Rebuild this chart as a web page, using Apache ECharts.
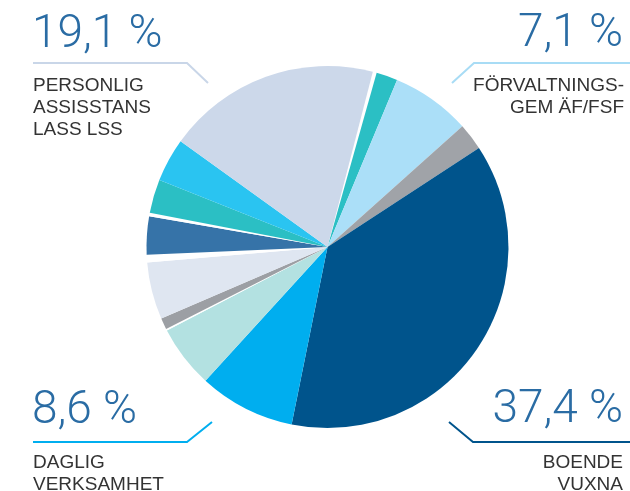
<!DOCTYPE html>
<html>
<head>
<meta charset="utf-8">
<script src="https://cdn.jsdelivr.net/npm/echarts@6/dist/echarts.min.js"></script>
<style>
  html, body { margin: 0; padding: 0; background: #ffffff; }
  #chart { width: 630px; height: 491px; }
</style>
</head>
<body>
<div id="chart"></div>
<script>
// Slices in clockwise order, starting just right of 12 o'clock
const categories = [
  'gap1', 'Övrigt 1', 'Förvaltningsgem ÄF/FSF', 'Övrigt 2', 'Boende vuxna',
  'Daglig verksamhet', 'Övrigt 3', 'gap2', 'Övrigt 4', 'Övrigt 5', 'gap3',
  'Övrigt 6', 'gap4', 'Övrigt 7', 'Övrigt 8', 'Personlig assistans LASS LSS'
];
const values = [0.35, 1.9, 7.1, 2.4, 37.4, 8.6, 5.6, 0.15, 1.0, 5.1, 0.7, 3.4, 0.3, 3.0, 3.9, 19.1];
const colors = [
  '#ffffff', '#2bbfc4', '#abdff8', '#a0a3a8', '#00548c',
  '#00aeef', '#b3e1e1', '#ffffff', '#9c9fa4', '#dfe6f1', '#ffffff',
  '#3673a8', '#ffffff', '#2bbfc4', '#2ac4f1', '#ccd8ea'
];
const percentLabels = ['19,1 %', '7,1 %', '8,6 %', '37,4 %'];
const nameLabels = [
  'PERSONLIG\nASSISSTANS\nLASS LSS',
  'FÖRVALTNINGS-\nGEM ÄF/FSF',
  'DAGLIG\nVERKSAMHET',
  'BOENDE\nVUXNA'
];
const leaderColors = ['#c9d6e8', '#a8dcf5', '#00aeef', '#00548c'];

const chart = echarts.init(document.getElementById('chart'), null, { renderer: 'canvas' });

const numFont = { fontFamily: 'Roboto, "Liberation Sans", sans-serif', fontWeight: 300, fontSize: 46, fill: '#2a6ca4' };
const txtFont = { fontFamily: '"Liberation Sans", Arial, sans-serif', fontSize: 19, fill: '#333333', lineHeight: 22 };

function num(i, x, y, align) {
  return { type: 'text', x: x, y: y, silent: true,
    style: Object.assign({ text: percentLabels[i], align: align, verticalAlign: 'middle' }, numFont) };
}
function name(i, x, y, align) {
  return { type: 'text', x: x, y: y, silent: true,
    style: Object.assign({ text: nameLabels[i], align: align, verticalAlign: 'top' }, txtFont) };
}
function leader(i, pts) {
  return { type: 'polyline', silent: true, shape: { points: pts },
    style: { stroke: leaderColors[i], lineWidth: 2, fill: null } };
}

chart.setOption({
  animation: false,
  series: [{
    type: 'pie',
    center: [327.5, 247],
    radius: [0, 181],
    startAngle: 75.5,
    clockwise: true,
    minAngle: 0,
    avoidLabelOverlap: false,
    label: { show: false },
    labelLine: { show: false },
    emphasis: { disabled: true },
    itemStyle: { borderWidth: 0 },
    data: categories.map((c, i) => ({ name: c, value: values[i], itemStyle: { color: colors[i] } }))
  }],
  graphic: [
    leader(0, [[33, 63], [187, 63], [208, 83]]),
    leader(1, [[452, 83], [474, 63], [630, 63]]),
    leader(2, [[33, 442], [187, 442], [212, 422]]),
    leader(3, [[449, 422], [473, 442], [630, 442]]),
    num(0, 32, 35, 'left'),
    num(1, 623, 34, 'right'),
    num(2, 32, 411, 'left'),
    num(3, 623, 410.5, 'right'),
    name(0, 33, 75, 'left'),
    name(1, 624, 75, 'right'),
    name(2, 33, 452, 'left'),
    name(3, 623, 452, 'right')
  ]
});
</script>
</body>
</html>
